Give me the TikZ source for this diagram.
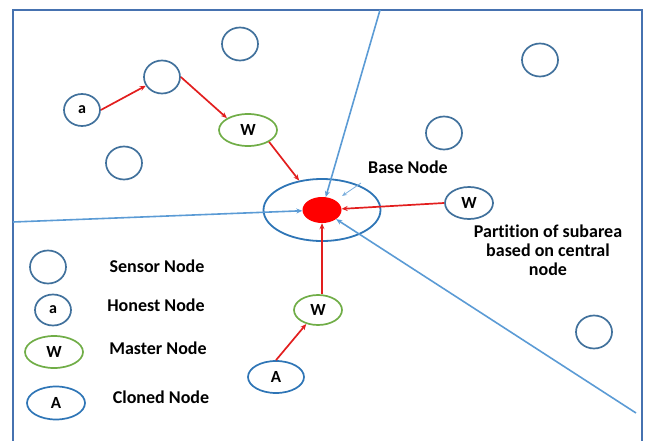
\documentclass[tikz,border=0pt]{standalone}
\usepackage{fontspec}
\setmainfont{Carlito}[Ligatures=NoCommon]
\usetikzlibrary{shapes.geometric,arrows.meta}
\definecolor{sensblue}{RGB}{65,113,156}
\definecolor{masgreen}{RGB}{112,173,71}
\definecolor{clonblue}{RGB}{46,117,182}
\definecolor{lineblue}{RGB}{91,155,213}
\definecolor{frameblue}{RGB}{70,114,176}
\definecolor{arrred}{RGB}{226,30,30}
\begin{document}
\begin{tikzpicture}[x=1pt,y=-1pt,
  every node/.style={inner sep=0pt},
  sens/.style={ellipse,draw=sensblue,line width=1.7pt,minimum width=36pt,minimum height=33pt},
  honest/.style={ellipse,draw=sensblue,line width=1.7pt,minimum width=36pt,minimum height=32pt,font=\bfseries\fontsize{16}{16}\selectfont},
  master/.style={ellipse,draw=masgreen,line width=1.7pt,minimum width=#1,minimum height=31pt,font=\bfseries\fontsize{17}{17}\selectfont},
  master/.default=50pt,
  clone/.style={ellipse,draw=clonblue,line width=1.7pt,minimum width=56pt,minimum height=32pt,font=\bfseries\fontsize{17}{17}\selectfont},
  lbl/.style={font=\bfseries\fontsize{18}{19}\selectfont,align=center},
  redarr/.style={draw=arrred,line width=1.7pt,-{Stealth[length=6pt,width=5pt]}},
  bluearr/.style={draw=lineblue,line width=1.6pt,-{Stealth[length=6pt,width=5pt]}},
  thinarr/.style={draw=lineblue!80,line width=0.8pt,-{Stealth[length=5pt,width=4pt]}}
]
\useasboundingbox (0,0) rectangle (647,441);
% frame
\draw[frameblue,line width=1.7pt] (13,441) -- (13,10) -- (642,10) -- (642,441);

% partition lines
\coordinate (tp) at (380,10);
\coordinate (lp) at (13,222);
\coordinate (rp) at (636,413);

% base node
\node[ellipse,draw=clonblue,line width=1.8pt,minimum width=117pt,minimum height=62pt] (base) at (322,210) {};
\node[ellipse,fill=red,minimum width=39pt,minimum height=26pt] (red) at (322,210) {};

% sensor nodes
\node[sens] (s1) at (240,44) {};
\node[sens] (s2) at (162,77) {};
\node[sens] (s3) at (124,163) {};
\node[sens] (s4) at (540,60) {};
\node[sens] (s5) at (444,133) {};
\node[sens] (s6) at (594,332) {};

% honest, master, cloned
\node[honest] (a1) at (82,110) {a};
\node[master=58pt,minimum height=32pt] (w1) at (248,130) {W};
\node[ellipse,draw=sensblue,line width=1.7pt,minimum width=48pt,minimum height=32pt,font=\bfseries\fontsize{17}{17}\selectfont] (w2) at (469,203) {W};
\node[master=48pt,minimum height=30pt] (w3) at (318,310) {W};
\node[clone] (c1) at (276,377) {A};

% labels
\node[lbl] (bl) at (408,167) {Base Node};
\node[lbl] (part) at (548,250) {Partition of subarea\\based on central\\node};

% blue partition lines
\draw[bluearr] (tp) -- (red);
\draw[bluearr] (lp) -- (red);
\draw[bluearr] (rp) -- (red);
\coordinate (bla) at (361,183);
\coordinate (blb) at (342,196);
\draw[thinarr] (bla) -- (blb);

% red arrows
\draw[redarr] (a1.east) -- (s2);
\draw[redarr] (s2.east) -- (w1.north west);
\draw[redarr] (w1.south east) -- (base);
\draw[redarr] (w2.west) -- (red);
\draw[redarr] (w3.north -| red.south) -- (red.south);
\draw[redarr] (c1.north) -- (w3);

% legend
\node[sens] (ls) at (48,267) {};
\node[honest,minimum height=31pt] (lh) at (53,310) {a};
\node[master=58pt,minimum height=32pt] (lm) at (54,352) {W};
\node[clone,minimum width=58pt,minimum height=33pt] (lc) at (56,403) {A};
\node[lbl] (tls) at (157,266) {Sensor Node};
\node[lbl] (tlh) at (156,305) {Honest Node};
\node[lbl] (tlm) at (158,348) {Master Node};
\node[lbl] (tlc) at (161,397) {Cloned Node};
\end{tikzpicture}
\end{document}
